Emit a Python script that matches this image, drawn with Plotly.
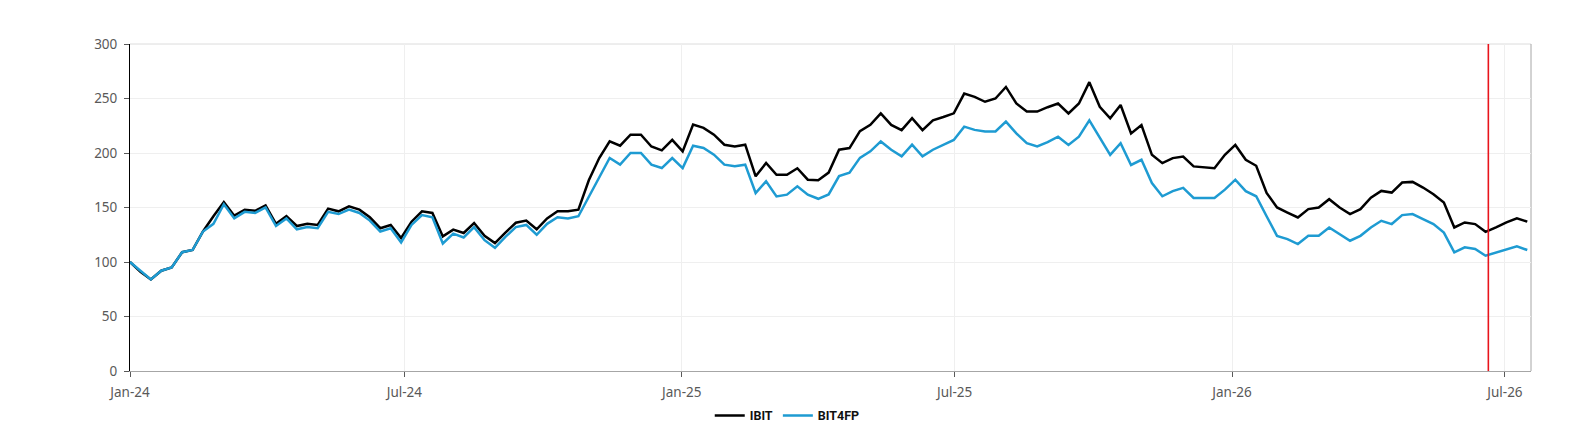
import pandas as pd
import plotly.graph_objects as go

START_DATE = "2024-01-01"
STEP = "166h"
MARKER_DATE = "2026-06-20"
X_END = "2026-07-18 07:00"

ibit = [100, 91, 84, 92, 95, 109, 111, 128, 142, 155,
        142.5, 148, 147, 152, 135, 142, 133, 135, 134, 149,
        146.5, 151, 148, 141, 131, 134, 122, 137, 146.5, 145,
        123.5, 129.7, 126.6, 135.8, 124, 117.4, 127, 136, 138, 130,
        140, 146.5, 146.5, 148, 175, 195.4, 210.7, 206.7, 216.8, 216.8,
        206, 202.4, 212, 201.5, 226, 223, 216.8, 207.6, 206, 207.6,
        178.6, 190.8, 180, 180, 186, 175.5, 175, 182, 203, 204.5,
        220, 225.8, 236.4, 225.8, 221, 232, 221, 230, 233, 236.4,
        254.5, 251.5, 247, 250, 260.6, 245.5, 238, 238, 242, 245.4,
        236.3, 245.4, 265, 242.4, 231.8, 244, 218, 225.7, 198.3, 190.7,
        195.3, 196.8, 187.7, 187, 186, 198.3, 207.4, 193.8, 188.3, 163.4,
        150, 145.4, 140.9, 148.5, 150, 157.6, 150, 144, 148.5, 159,
        165.2, 163.7, 172.9, 173.5, 168.3, 162.2, 154.6, 131.7, 136.3, 134.8,
        127.7, 131.7, 136.3, 140, 137]

bit4fp = [100, 92, 84, 92, 95, 109, 111, 128, 135, 153,
          140, 146, 145, 150, 133, 140, 130, 132, 131, 146,
          144, 148, 145, 138, 128, 131, 118, 134, 143, 141,
          117, 126, 122.5, 132, 120, 113, 123, 132, 134, 125,
          135, 141, 140, 142, 160, 178.6, 195.4, 189.3, 200, 200,
          189.3, 186.2, 195.4, 186.2, 206.7, 204.6, 198.5, 189.3, 187.8, 189.3,
          163.3, 174, 160.2, 161.8, 169.4, 161.8, 158, 162, 178.8, 182,
          195.5, 201.5, 210.6, 203, 197, 207.6, 197, 203, 207.6, 212,
          224.2, 221.2, 219.7, 219.7, 228.8, 218, 209, 206, 210, 215,
          207.4, 215, 230, 213.5, 198.3, 209, 189, 193.8, 172.5, 160.3,
          165, 168, 158.8, 158.8, 158.8, 166.4, 175.5, 165, 160.3, 142,
          124, 121, 116.5, 124, 124, 131.7, 125.6, 119.5, 124, 131.7,
          137.8, 134.8, 143, 144, 139.3, 134.8, 127, 108.8, 113.4, 111.9,
          105.8, 108.8, 111.9, 114.3, 111]

dates = pd.date_range(START_DATE, periods=len(ibit), freq=STEP)

fig = go.Figure()
fig.add_trace(go.Scatter(x=dates, y=ibit, name="IBIT", mode="lines",
                         line=dict(color="#000000", width=2.5)))
fig.add_trace(go.Scatter(x=dates, y=bit4fp, name="BIT4FP", mode="lines",
                         line=dict(color="#1e9bd2", width=2.5)))

fig.add_shape(type="line", xref="x", yref="paper", x0=MARKER_DATE, x1=MARKER_DATE,
              y0=0, y1=1, line=dict(color="#e8141c", width=1.6), layer="above")
# top and right borders
fig.add_shape(type="line", xref="paper", yref="paper", x0=0, x1=1, y0=1, y1=1,
              line=dict(color="#dcdcdc", width=1), layer="below")
fig.add_shape(type="line", xref="paper", yref="paper", x0=1, x1=1, y0=0, y1=1,
              line=dict(color="#a6a6a6", width=1), layer="below")

tick_font = dict(family="Noto Sans, Liberation Sans, sans-serif", size=13.5, color="#595959")

fig.update_layout(
    width=1584, height=430,
    margin=dict(l=130, r=53, t=44, b=59, autoexpand=False),
    paper_bgcolor="white", plot_bgcolor="white",
    showlegend=True,
    legend=dict(orientation="h", xref="container", yref="container",
                x=0.497, xanchor="center", y=0.033, yanchor="middle",
                font=dict(family="Roboto, Liberation Sans, sans-serif", size=12.5,
                          color="#111111", weight="bold"),
                itemwidth=30, tracegroupgap=0, bgcolor="rgba(0,0,0,0)"),
    xaxis=dict(type="date", range=[START_DATE, X_END], tick0=START_DATE, dtick="M6",
               tickformat="%b-%y", showgrid=True, gridcolor="#efefef", gridwidth=1,
               showline=True, linecolor="#a6a6a6", linewidth=1,
               ticks="outside", ticklen=5, tickcolor="#595959", tickfont=tick_font,
               ticklabelstandoff=4, zeroline=False, automargin=False),
    yaxis=dict(range=[0, 300], dtick=50, showgrid=True, gridcolor="#efefef", gridwidth=1,
               showline=True, linecolor="#000000", linewidth=1,
               ticks="outside", ticklen=5, tickcolor="#595959", tickfont=tick_font,
               ticklabelstandoff=4, zeroline=False, automargin=False),
)

fig.write_html("out.html")
